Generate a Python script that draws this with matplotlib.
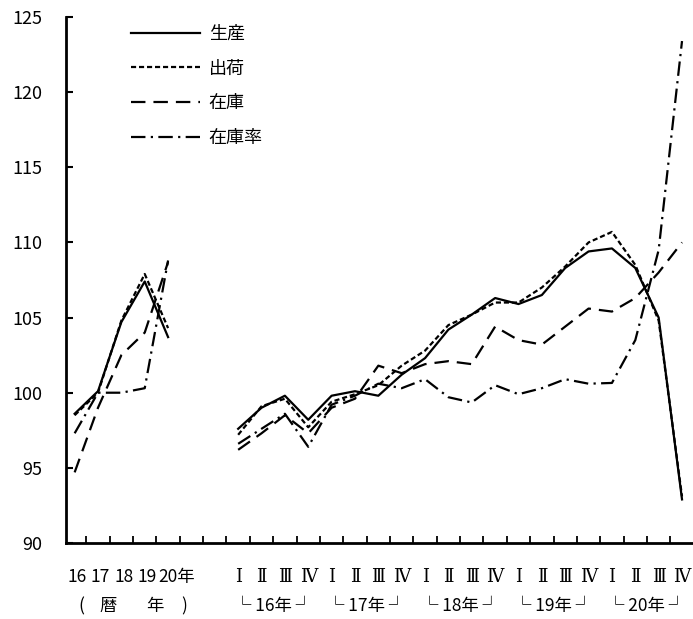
import matplotlib
matplotlib.use('Agg')
import matplotlib.pyplot as plt
import matplotlib.transforms as mtransforms

plt.rcParams['font.family'] = ['Noto Sans CJK JP', 'DejaVu Sans']

# ---- data ----
series_names = ['生産', '出荷', '在庫', '在庫率']
annual_labels = ['16', '17', '18', '19', '20年']
annual_note = ['(', '暦', '年', ')']
quarter_labels = ['Ⅰ', 'Ⅱ', 'Ⅲ', 'Ⅳ']
group_labels = ['└ 16年 ┘', '└ 17年 ┘', '└ 18年 ┘', '└ 19年 ┘', '└ 20年 ┘']

prod_annual = [98.6, 100.1, 104.7, 107.4, 103.7]
ship_annual = [98.5, 100.0, 104.8, 107.9, 104.3]
inv_annual = [94.7, 99.0, 102.5, 104.0, 108.7]
ratio_annual = [97.3, 100.0, 100.0, 100.3, 108.8]

prod_q = [97.6, 99.0, 99.8, 98.2, 99.8, 100.1, 99.8, 101.2, 102.3, 104.2,
          105.2, 106.3, 105.9, 106.5, 108.3, 109.4, 109.6, 108.3, 105.0, 92.9]
ship_q = [97.2, 99.1, 99.6, 97.7, 99.4, 99.9, 100.5, 101.8, 102.8, 104.5,
          105.2, 106.0, 106.0, 107.0, 108.4, 110.0, 110.7, 108.5, 104.8, 93.1]
inv_q = [96.2, 97.3, 98.5, 97.3, 99.0, 99.6, 101.8, 101.3, 101.9, 102.1,
         101.9, 104.4, 103.5, 103.2, 104.4, 105.6, 105.4, 106.3, 108.0, 110.0]
ratio_q = [96.6, 97.6, 98.6, 96.4, 99.2, 99.8, 100.6, 100.3, 100.9, 99.7,
           99.35, 100.5, 99.9, 100.3, 100.9, 100.6, 100.65, 103.5, 109.5, 123.4]

y_ticks = [90, 95, 100, 105, 110, 115, 120, 125]

# ---- layout ----
W, H = 693, 619
fig = plt.figure(figsize=(W / 100, H / 100), dpi=100)
ax = fig.add_axes([66 / W, 1 - 543 / H, (693 - 66) / W, (543 - 17) / H])

x_annual = list(range(len(annual_labels)))
q_start = 7
n_q = len(prod_q)
x_q = [q_start + i for i in range(n_q)]

lw = 1.6
styles = [
    dict(linestyle='-', color='black'),
    dict(linestyle=(0, (2.3, 1.3)), color='black'),
    dict(linestyle=(0, (6.5, 3.6)), color='black'),
    dict(linestyle=(0, (6.5, 2.4, 1.0, 2.4)), color='black'),
]
annual_data = [prod_annual, ship_annual, inv_annual, ratio_annual]
q_data = [prod_q, ship_q, inv_q, ratio_q]

for name, st, ya, yq in zip(series_names, styles, annual_data, q_data):
    ax.plot(x_annual, ya, lw=lw, label=name, **st)
    ax.plot(x_q, yq, lw=lw, **st)

ax.set_ylim(90, 125)
ax.set_xlim(-0.37, 26.47)
ax.set_yticks(y_ticks)
ax.set_yticklabels([str(v) for v in y_ticks], fontsize=13)
ax.tick_params(axis='y', direction='in', length=5, width=1.5, pad=17)

x_tick_pos = [k + 0.5 for k in range(26)]
ax.set_xticks(x_tick_pos)
ax.set_xticklabels([])
ax.tick_params(axis='x', direction='in', length=5, width=1.3)

for side in ['top', 'right']:
    ax.spines[side].set_visible(False)
ax.spines['left'].set_linewidth(2)
ax.spines['bottom'].set_linewidth(2)

# x labels
trans = mtransforms.blended_transform_factory(ax.transData, fig.transFigure)
row1 = 1 - 577 / H
row2 = 1 - 606 / H
for i, lab in enumerate(annual_labels):
    if lab.endswith('年'):
        ax.text(i - 0.42, row1, lab, transform=trans, ha='left', va='center', fontsize=12.5)
    else:
        ax.text(i + 0.1, row1, lab, transform=trans, ha='center', va='center', fontsize=12.5)
for xpos, ch in zip([0.3, 1.45, 3.43, 4.67], annual_note):
    ax.text(xpos, row2, ch, transform=trans, ha='center', va='center', fontsize=12.5)

roman_family = ['DejaVu Serif', 'Noto Sans CJK JP']
for g, glab in enumerate(group_labels):
    for j, ql in enumerate(quarter_labels):
        ax.text(q_start + 4 * g + j, row1, ql, transform=trans, ha='center', va='center',
                fontsize=13, family=roman_family)
    ax.text(q_start + 4 * g + 1.5, row2, glab, transform=trans, ha='center', va='center',
            fontsize=12.5)

leg = ax.legend(loc='upper left', bbox_to_anchor=((131 - 66) / (693 - 66), 0.985),
                frameon=False, fontsize=13, handlelength=3.8, handletextpad=0.5,
                labelspacing=0.93, borderpad=0, borderaxespad=0)

fig.savefig('out.png', dpi=100)
